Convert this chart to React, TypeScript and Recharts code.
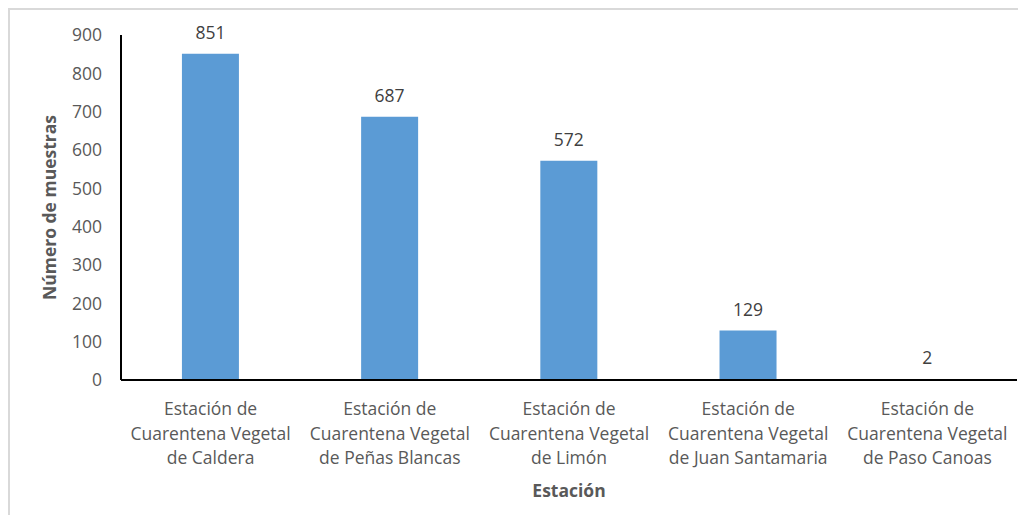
import { Bar, BarChart, LabelList, XAxis, YAxis } from "recharts";

const stations = [
  ["Estación de", "Cuarentena Vegetal", "de Caldera"],
  ["Estación de", "Cuarentena Vegetal", "de Peñas Blancas"],
  ["Estación de", "Cuarentena Vegetal", "de Limón"],
  ["Estación de", "Cuarentena Vegetal", "de Juan Santamaria"],
  ["Estación de", "Cuarentena Vegetal", "de Paso Canoas"],
];
const samples = [851, 687, 572, 129, 2];
const yTicks = [0, 100, 200, 300, 400, 500, 600, 700, 800, 900];

const data = stations.map((lines, i) => ({ name: lines.join("\n"), value: samples[i] }));

const font = "'Open Sans', sans-serif";
const grey = "#595959";
const size = 17.5;

function StationTick({ x, y, payload }: any) {
  const lines = String(payload.value).split("\n");
  return (
    <text x={x} y={y} textAnchor="middle" fill={grey} fontSize={size} fontFamily={font}>
      {lines.map((l, i) => (
        <tspan key={i} x={x} dy={i === 0 ? 27 : 24.5}>
          {l}
        </tspan>
      ))}
    </text>
  );
}

export default function App() {
  return (
    <div
      style={{
        width: 1008,
        height: 505,
        borderTop: "2px solid #d9d9d9",
        borderLeft: "2px solid #d9d9d9",
        background: "#fff",
      }}
    >
      <BarChart
        width={1008}
        height={505}
        data={data}
        margin={{ top: 25, right: 1, bottom: 0, left: 0 }}
        barCategoryGap="34%"
      >
        <XAxis
          dataKey="name"
          height={135}
          axisLine={{ stroke: "#000", strokeWidth: 2 }}
          tickLine={false}
          interval={0}
          tick={<StationTick />}
          label={{
            value: "Estación",
            position: "insideBottom",
            offset: 18,
            fill: grey,
            fontSize: size,
            fontWeight: "bold",
            fontFamily: font,
          }}
        />
        <YAxis
          width={111}
          domain={[0, 900]}
          ticks={yTicks}
          interval={0}
          axisLine={{ stroke: "#000", strokeWidth: 2 }}
          tickLine={false}
          tickSize={0}
          tickMargin={19}
          tick={{ fill: grey, fontSize: size, fontFamily: font }}
          label={{
            value: "Número de muestras",
            angle: -90,
            position: "insideLeft",
            offset: 40,
            style: { textAnchor: "middle" },
            fill: grey,
            fontSize: size,
            fontWeight: "bold",
            fontFamily: font,
          }}
        />
        <Bar dataKey="value" fill="#5B9BD5" isAnimationActive={false}>
          <LabelList
            dataKey="value"
            position="top"
            offset={15}
            fill="#404040"
            fontSize={size}
            fontFamily={font}
          />
        </Bar>
      </BarChart>
    </div>
  );
}
